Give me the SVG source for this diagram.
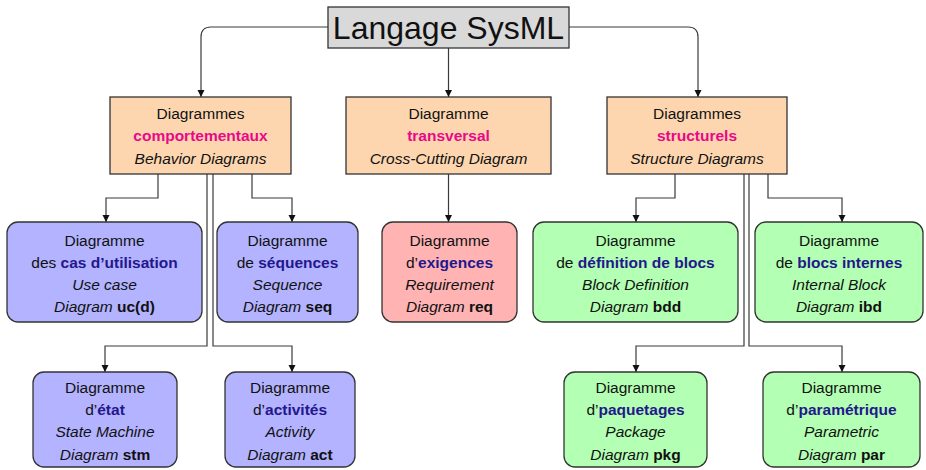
<svg xmlns="http://www.w3.org/2000/svg" width="926" height="470" viewBox="0 0 926 470">
  <style>
    text { font-family: "Liberation Sans", Arial, Helvetica, sans-serif; font-size: 15.5px; fill: #111; text-anchor: middle; }
    .title { font-size: 32px; }
    .it { font-style: italic; }
    .b { font-weight: bold; }
    .mag { font-weight: bold; fill: #e8088a; }
    .nav { font-weight: bold; fill: #24178c; }
    .box { stroke: #333; stroke-width: 1.3; }
    .gray { fill: #d9d9d9; }
    .orange { fill: #fdd6af; }
    .blue { fill: #b3b3ff; }
    .red { fill: #ffb3b3; }
    .green { fill: #b3ffb3; }
    .conn path { fill: none; stroke: #3a3a3a; stroke-width: 1.2; }
  </style>
  <defs>
    <marker id="arrow" markerUnits="userSpaceOnUse" markerWidth="8" markerHeight="8" refX="7" refY="3.5" orient="auto">
      <path d="M0,0 L7,3.5 L0,7 z" fill="#111"/>
    </marker>
  </defs>

  <!-- connectors -->
  <g id="connectors" class="conn">
    <path d="M328,27 H211 Q201,27 201,37 V97" marker-end="url(#arrow)"/>
    <path d="M448.5,48 V97" marker-end="url(#arrow)"/>
    <path d="M569,27 H688 Q698,27 698,37 V97" marker-end="url(#arrow)"/>

    <!-- behaviour branch -->
    <path d="M158,174 V198 H106 V222" marker-end="url(#arrow)"/>
    <path d="M252,174 V198 H292 V222" marker-end="url(#arrow)"/>
    <path d="M207,174 V346 H105 V372" marker-end="url(#arrow)"/>
    <path d="M213,174 V346 H292 V372" marker-end="url(#arrow)"/>

    <!-- cross-cutting branch -->
    <path d="M448.5,174 V222" marker-end="url(#arrow)"/>

    <!-- structure branch -->
    <path d="M675,174 V198 H636 V222" marker-end="url(#arrow)"/>
    <path d="M768,174 V198 H842 V222" marker-end="url(#arrow)"/>
    <path d="M744,174 V346 H636 V372" marker-end="url(#arrow)"/>
    <path d="M749,174 V346 H842 V372" marker-end="url(#arrow)"/>
  </g>

  <!-- root -->
  <g id="sysml">
    <rect class="box gray" x="328" y="7" width="241" height="41"/>
    <text class="title" x="448.5" y="38.5">Langage SysML</text>
  </g>

  <!-- categories -->
  <g id="behavior">
    <rect class="box orange" x="110" y="97" width="181" height="77"/>
    <text x="200.5" y="119">Diagrammes</text>
    <text class="mag" x="200.5" y="141">comportementaux</text>
    <text class="it" x="200.5" y="163.5">Behavior Diagrams</text>
  </g>
  <g id="crosscutting">
    <rect class="box orange" x="346" y="97" width="205" height="77"/>
    <text x="448.5" y="119">Diagramme</text>
    <text class="mag" x="448.5" y="141">transversal</text>
    <text class="it" x="448.5" y="163.5">Cross-Cutting Diagram</text>
  </g>
  <g id="structure">
    <rect class="box orange" x="607" y="97" width="180" height="77"/>
    <text x="697" y="119">Diagrammes</text>
    <text class="mag" x="697" y="141">structurels</text>
    <text class="it" x="697" y="163.5">Structure Diagrams</text>
  </g>

  <!-- behaviour diagrams -->
  <g id="uc">
    <rect class="box blue" x="7" y="222" width="195" height="100" rx="11"/>
    <text x="104.5" y="245.5">Diagramme</text>
    <text x="104.5" y="267.5">des <tspan class="nav">cas d’utilisation</tspan></text>
    <text class="it" x="104.5" y="289.5">Use case</text>
    <text x="104.5" y="311.5"><tspan class="it">Diagram</tspan> <tspan class="b">uc(d)</tspan></text>
  </g>
  <g id="seq">
    <rect class="box blue" x="217" y="222" width="141" height="100" rx="11"/>
    <text x="287.5" y="245.5">Diagramme</text>
    <text x="287.5" y="267.5">de <tspan class="nav">séquences</tspan></text>
    <text class="it" x="287.5" y="289.5">Sequence</text>
    <text x="287.5" y="311.5"><tspan class="it">Diagram</tspan> <tspan class="b">seq</tspan></text>
  </g>
  <g id="stm">
    <rect class="box blue" x="33" y="372" width="144" height="95" rx="11"/>
    <text x="105" y="392.5">Diagramme</text>
    <text x="105" y="415">d’<tspan class="nav">état</tspan></text>
    <text class="it" x="105" y="437">State Machine</text>
    <text x="105" y="459.5"><tspan class="it">Diagram</tspan> <tspan class="b">stm</tspan></text>
  </g>
  <g id="act">
    <rect class="box blue" x="225" y="372" width="130" height="95" rx="11"/>
    <text x="290" y="392.5">Diagramme</text>
    <text x="290" y="415">d’<tspan class="nav">activités</tspan></text>
    <text class="it" x="290" y="437">Activity</text>
    <text x="290" y="459.5"><tspan class="it">Diagram</tspan> <tspan class="b">act</tspan></text>
  </g>

  <!-- cross-cutting diagram -->
  <g id="req">
    <rect class="box red" x="382" y="222" width="135" height="100" rx="11"/>
    <text x="449.5" y="245.5">Diagramme</text>
    <text x="449.5" y="267.5">d’<tspan class="nav">exigences</tspan></text>
    <text class="it" x="449.5" y="289.5">Requirement</text>
    <text x="449.5" y="311.5"><tspan class="it">Diagram</tspan> <tspan class="b">req</tspan></text>
  </g>

  <!-- structure diagrams -->
  <g id="bdd">
    <rect class="box green" x="533" y="222" width="205" height="100" rx="11"/>
    <text x="635.5" y="245.5">Diagramme</text>
    <text x="635.5" y="267.5">de <tspan class="nav">définition de blocs</tspan></text>
    <text class="it" x="635.5" y="289.5">Block Definition</text>
    <text x="635.5" y="311.5"><tspan class="it">Diagram</tspan> <tspan class="b">bdd</tspan></text>
  </g>
  <g id="ibd">
    <rect class="box green" x="755" y="222" width="168" height="100" rx="11"/>
    <text x="839" y="245.5">Diagramme</text>
    <text x="839" y="267.5">de <tspan class="nav">blocs internes</tspan></text>
    <text class="it" x="839" y="289.5">Internal Block</text>
    <text x="839" y="311.5"><tspan class="it">Diagram</tspan> <tspan class="b">ibd</tspan></text>
  </g>
  <g id="pkg">
    <rect class="box green" x="564" y="372" width="143" height="95" rx="11"/>
    <text x="635.5" y="392.5">Diagramme</text>
    <text x="635.5" y="415">d’<tspan class="nav">paquetages</tspan></text>
    <text class="it" x="635.5" y="437">Package</text>
    <text x="635.5" y="459.5"><tspan class="it">Diagram</tspan> <tspan class="b">pkg</tspan></text>
  </g>
  <g id="par">
    <rect class="box green" x="763" y="372" width="157" height="95" rx="11"/>
    <text x="841.5" y="392.5">Diagramme</text>
    <text x="841.5" y="415">d’<tspan class="nav">paramétrique</tspan></text>
    <text class="it" x="841.5" y="437">Parametric</text>
    <text x="841.5" y="459.5"><tspan class="it">Diagram</tspan> <tspan class="b">par</tspan></text>
  </g>
</svg>
